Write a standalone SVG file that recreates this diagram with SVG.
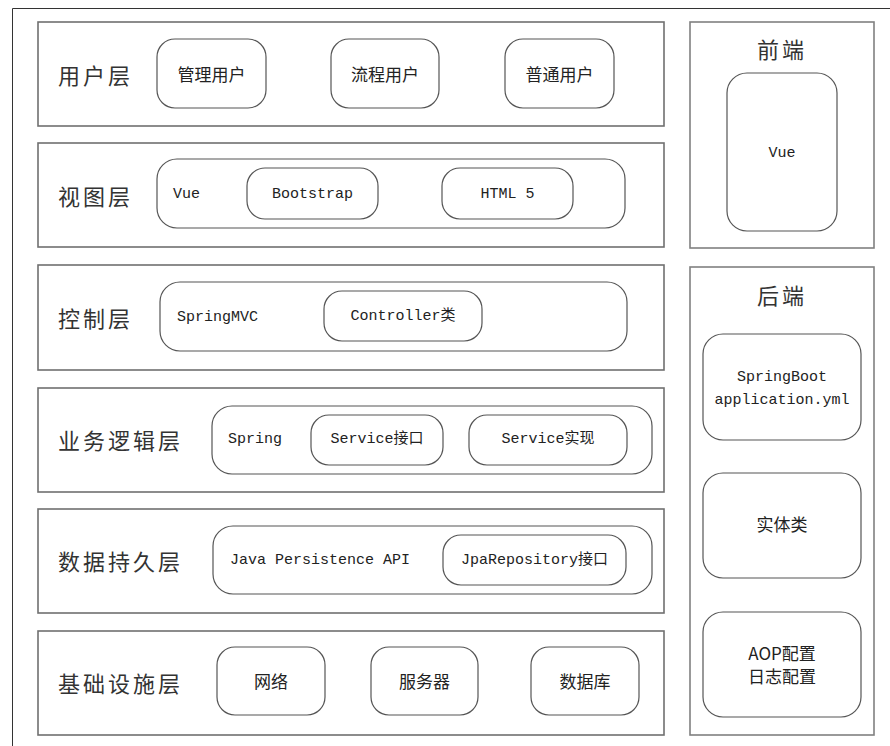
<svg xmlns="http://www.w3.org/2000/svg" width="890" height="746" viewBox="0 0 890 746">
<style>
.layer{fill:#fff;stroke:#707070;stroke-width:1.6}
.panel{fill:#fff;stroke:#808080;stroke-width:1.6}
.rr{fill:#fff;stroke:#555;stroke-width:1.2}
.lbl{font-family:"Noto Sans CJK SC","Noto Sans",sans-serif;font-size:22px;fill:#333;letter-spacing:3px;dominant-baseline:central}
.cn{font-family:"Noto Sans CJK SC","Noto Sans",sans-serif;font-size:17px;fill:#222;text-anchor:middle;dominant-baseline:central}
.mono{font-family:"Liberation Mono","Noto Sans CJK SC",monospace;font-size:15px;fill:#222;dominant-baseline:central}
.mid{text-anchor:middle}
</style>
<rect width="890" height="746" fill="#fff"/>
<path d="M12.5,746 V8.5 H890" fill="none" stroke="#333" stroke-width="1"/>
<g id="connectors"></g>

<g id="layer-user">
<rect class="layer" x="38" y="22" width="626" height="104"/>
<text class="lbl" x="58" y="74">用户层</text>
<g id="node-admin"><rect class="rr" x="157" y="39" width="109" height="69" rx="18"/><text class="cn" x="211.5" y="73">管理用户</text></g>
<g id="node-flow"><rect class="rr" x="331" y="39" width="108" height="69" rx="18"/><text class="cn" x="385" y="73">流程用户</text></g>
<g id="node-normal"><rect class="rr" x="505" y="39" width="109" height="69" rx="18"/><text class="cn" x="559.5" y="73">普通用户</text></g>
</g>

<g id="layer-view">
<rect class="layer" x="38" y="143" width="626" height="104"/>
<text class="lbl" x="58" y="195">视图层</text>
<rect class="rr" x="157" y="159" width="468" height="69" rx="20"/>
<text class="mono" x="173" y="194">Vue</text>
<g id="node-bootstrap"><rect class="rr" x="247" y="168" width="131" height="51" rx="18"/><text class="mono mid" x="312.5" y="194">Bootstrap</text></g>
<g id="node-html5"><rect class="rr" x="442" y="168" width="131" height="51" rx="18"/><text class="mono mid" x="507.5" y="194">HTML 5</text></g>
</g>

<g id="layer-control">
<rect class="layer" x="38" y="265" width="626" height="105"/>
<text class="lbl" x="58" y="317">控制层</text>
<rect class="rr" x="160" y="282" width="467" height="69" rx="20"/>
<text class="mono" x="177" y="317">SpringMVC</text>
<g id="node-controller"><rect class="rr" x="324" y="291" width="158" height="50" rx="18"/><text class="mono mid" x="403" y="316">Controller类</text></g>
</g>

<g id="layer-business">
<rect class="layer" x="38" y="388" width="626" height="104"/>
<text class="lbl" x="58" y="439">业务逻辑层</text>
<rect class="rr" x="212" y="406" width="440" height="68" rx="20"/>
<text class="mono" x="228" y="439">Spring</text>
<g id="node-service-if"><rect class="rr" x="311" y="415" width="132" height="50" rx="18"/><text class="mono mid" x="377" y="439">Service接口</text></g>
<g id="node-service-impl"><rect class="rr" x="469" y="415" width="158" height="50" rx="18"/><text class="mono mid" x="548" y="439">Service实现</text></g>
</g>

<g id="layer-persistence">
<rect class="layer" x="38" y="509" width="626" height="104"/>
<text class="lbl" x="58" y="560">数据持久层</text>
<rect class="rr" x="213" y="526" width="439" height="68" rx="20"/>
<text class="mono" x="230" y="560">Java Persistence API</text>
<g id="node-jpa"><rect class="rr" x="443" y="535" width="183" height="50" rx="18"/><text class="mono mid" x="534.5" y="560">JpaRepository接口</text></g>
</g>

<g id="layer-infra">
<rect class="layer" x="38" y="631" width="626" height="104"/>
<text class="lbl" x="58" y="682">基础设施层</text>
<g id="node-network"><rect class="rr" x="217" y="647" width="108" height="68" rx="18"/><text class="cn" x="271" y="680">网络</text></g>
<g id="node-server"><rect class="rr" x="371" y="647" width="107" height="68" rx="18"/><text class="cn" x="424.5" y="680">服务器</text></g>
<g id="node-db"><rect class="rr" x="531" y="647" width="108" height="68" rx="18"/><text class="cn" x="585" y="680">数据库</text></g>
</g>

<g id="panel-frontend">
<rect class="panel" x="690" y="22" width="184" height="226"/>
<text class="lbl" x="782" y="48" text-anchor="middle" letter-spacing="2">前端</text>
<g id="node-fe-vue"><rect class="rr" x="727" y="73" width="110" height="158" rx="20"/><text class="mono mid" x="782" y="153">Vue</text></g>
</g>

<g id="panel-backend">
<rect class="panel" x="690" y="267" width="184" height="468"/>
<text class="lbl" x="782" y="294" text-anchor="middle" letter-spacing="2">后端</text>
<g id="node-springboot"><rect class="rr" x="703" y="334" width="158" height="106" rx="20"/><text class="mono mid" x="782" y="377">SpringBoot</text><text class="mono mid" x="782" y="400">application.yml</text></g>
<g id="node-entity"><rect class="rr" x="703" y="473" width="158" height="105" rx="20"/><text class="cn" x="782" y="523">实体类</text></g>
<g id="node-aop"><rect class="rr" x="703" y="612" width="158" height="105" rx="20"/><text class="cn" x="782" y="652" font-size="15">AOP配置</text><text class="cn" x="782" y="675" font-size="15">日志配置</text></g>
</g>
</svg>
